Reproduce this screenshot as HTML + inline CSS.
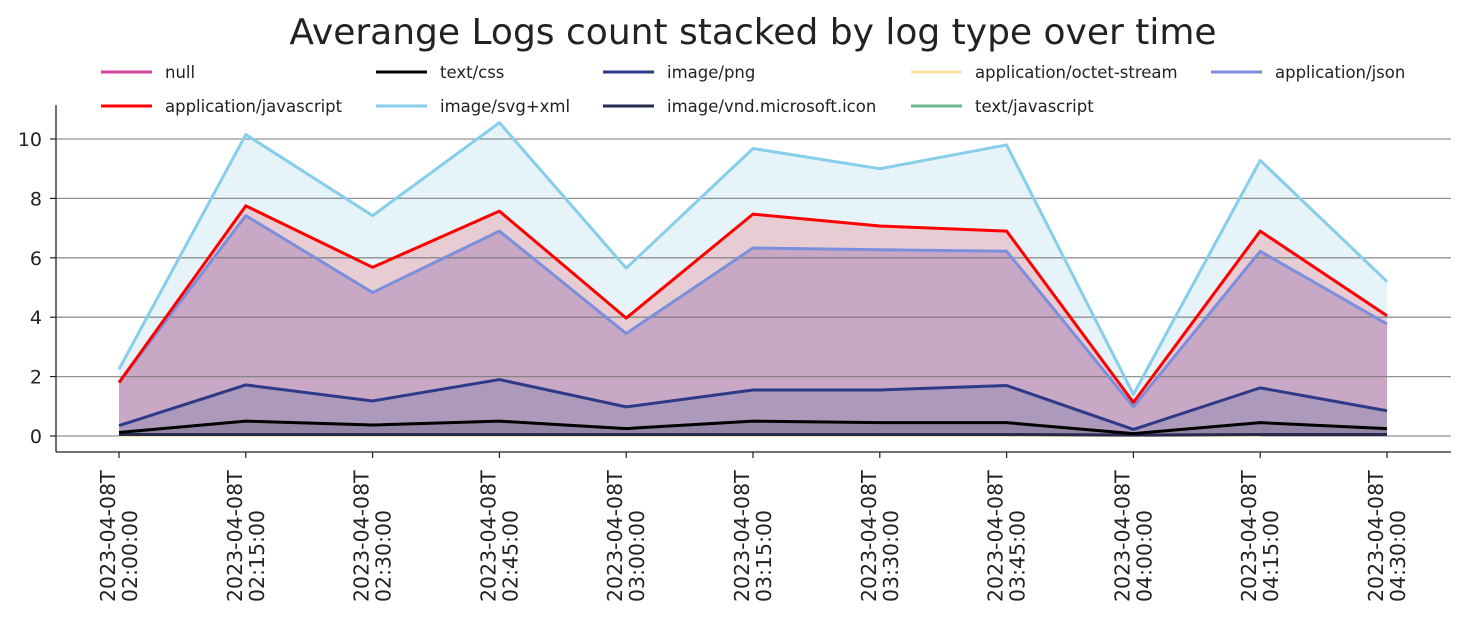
<!DOCTYPE html>
<html><head><meta charset="utf-8"><style>
body{margin:0;background:#fff;font-family:"Liberation Sans","DejaVu Sans",sans-serif}
svg text{font-family:"DejaVu Sans","Liberation Sans",sans-serif}
</style></head><body>
<svg id="c" width="1466" height="615">
<text x="753" y="44" font-size="36" text-anchor="middle" fill="#222">Averange Logs count stacked by log type over time</text>
</svg>
<script>
const categories=["2023-04-08T|02:00:00","2023-04-08T|02:15:00","2023-04-08T|02:30:00","2023-04-08T|02:45:00","2023-04-08T|03:00:00","2023-04-08T|03:15:00","2023-04-08T|03:30:00","2023-04-08T|03:45:00","2023-04-08T|04:00:00","2023-04-08T|04:15:00","2023-04-08T|04:30:00"];
const seriesNames=["null","application/octet-stream","image/vnd.microsoft.icon","text/css","image/png","application/json","application/javascript","image/svg+xml"];
const nullVals=[0,0,0,0,0,0,0,0,0,0,0];
const octetVals=[0.02,0.02,0.02,0.02,0.02,0.02,0.02,0.02,0.02,0.02,0];
const iconVals=[0.03,0.03,0.03,0.03,0.03,0.03,0.03,0.03,0.01,0.03,0.05];
const cssVals=[0.07,0.45,0.32,0.45,0.2,0.45,0.4,0.4,0.05,0.4,0.2];
const pngVals=[0.23,1.22,0.81,1.4,0.73,1.05,1.1,1.25,0.14,1.17,0.6];
const jsonVals=[1.45,5.7,3.65,5.0,2.47,4.78,4.72,4.52,0.76,4.6,2.92];
const javascriptVals=[0,0.33,0.85,0.67,0.52,1.14,0.8,0.68,0.15,0.68,0.28];
const svgVals=[0.45,2.4,1.74,2.98,1.68,2.21,1.93,2.9,0.27,2.38,1.15];
const yTicks=[0,2,4,6,8,10];
const legendOrder=[["null","#d6449a"],["text/css","#000"],["image/png","#2e3a87"],["application/octet-stream","#ffe4a1"],["application/json","#7b8fdc"],["application/javascript","#ff0000"],["image/svg+xml","#87ceeb"],["image/vnd.microsoft.icon","#262a4e"],["text/javascript","#6bb98a"]];
const layers=[[nullVals,"#d6449a","#8c7c9c",false],[octetVals,"#ffe4a1","#8c7c9c",true],[iconVals,"#262a4e","#8c7c9c",true],[cssVals,"#000","#9384a6",true],[pngVals,"#2e3a87","#ad99bb",true],[jsonVals,"#7b8fdc","#c8a8c4",true],[javascriptVals,"#ff0000","#e8ccd4",true],[svgVals,"#87ceeb","#e6f3f9",true]];
const svg=document.getElementById('c');const NS="http://www.w3.org/2000/svg";
function mk(t,a,p){const e=document.createElementNS(NS,t);for(const k in a)e.setAttribute(k,a[k]);(p||svg).appendChild(e);return e;}
const L=56,R=1451,T=105,B=452;
const xs=i=>119+i*(1387-119)/(categories.length-1);
const ys=v=>436-v*29.7;
let cum=categories.map(()=>0);const cums=[];const prevs=[];
layers.forEach(([vals])=>{prevs.push(cum);const n=cum.map((c,i)=>c+(vals[i]||0));cums.push(n);cum=n;});
// band fills
layers.forEach(([vals,col,fill],li)=>{const c=cums[li],p=prevs[li];const n=c.length;
let d=`M${xs(0)},${ys(c[0])}`;for(let i=1;i<n;i++)d+=`L${xs(i)},${ys(c[i])}`;for(let i=n-1;i>=0;i--)d+=`L${xs(i)},${ys(p[i])}`;d+='Z';
const a=mk('path',{d,fill:fill,stroke:'none'});

});
// grid
yTicks.forEach(v=>{const g=mk('line',{x1:L,x2:R,y1:ys(v),y2:ys(v),stroke:'#777','stroke-width':1.3,'stroke-opacity':0.8});


const t=mk('text',{x:42,y:ys(v)+7,'font-size':19,'text-anchor':'end',fill:'#222'});t.textContent=v;


mk('line',{x1:L-6,x2:L,y1:ys(v),y2:ys(v),stroke:'#222','stroke-width':1.2});});
layers.forEach(([vals,col,fill,draw],li)=>{if(!draw)return;const c=cums[li];let last=c.length;if(li===1)last=c.length-1;
const p=mk('polyline',{points:c.slice(0,last).map((v,i)=>xs(i)+','+ys(v)).join(' '),fill:'none',stroke:col,'stroke-width':3,'stroke-linejoin':'round'});

});
// axes
mk('line',{x1:L,x2:L,y1:T,y2:B,stroke:'#222','stroke-width':1.3});
mk('line',{x1:L,x2:R,y1:B,y2:B,stroke:'#222','stroke-width':1.3});
categories.forEach((c,i)=>{const x=xs(i);mk('line',{x1:x,x2:x,y1:B,y2:B+6,stroke:'#222','stroke-width':1.2});
const [a,b]=c.split('|');const t=mk('text',{transform:`translate(${x},602) rotate(-90)`,'font-size':20.5,fill:'#222'});
const s1=mk('tspan',{x:0,dy:-4},t);s1.textContent=a;const s2=mk('tspan',{x:0,dy:22},t);s2.textContent=b;

});
// legend
const lx=[101,376,603,911,1211],ly=[78,112];
legendOrder.forEach(([n,col],i)=>{const x=lx[i%5],y=ly[Math.floor(i/5)];
const g=mk('g',{});

mk('line',{x1:x,x2:x+51,y1:y-6,y2:y-6,stroke:col,'stroke-width':3},g);
const t=mk('text',{x:x+64,y:y,'font-size':16.5,fill:'#222'},g);t.textContent=n;});
</script>
</body></html>
